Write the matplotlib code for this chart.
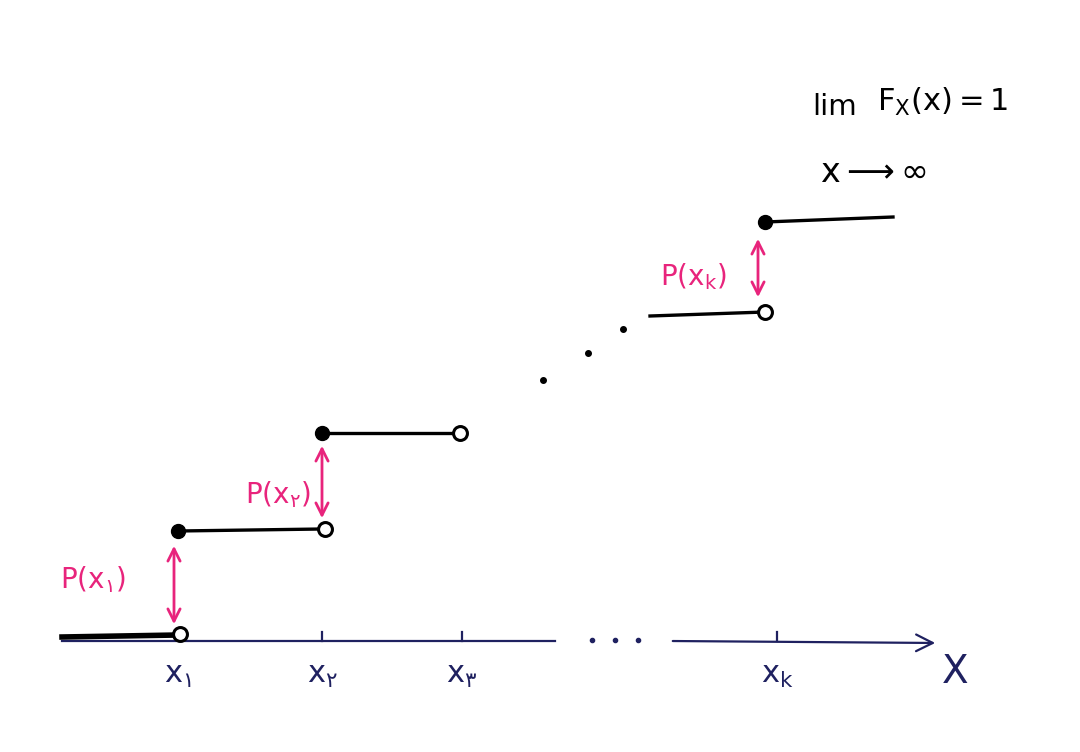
import matplotlib.pyplot as plt
import numpy as np

# positions of the jumps along X (drawing units) and the levels of F
jump_x = [178, 322, 462, 765]
tick_x = [178, 322, 462, 777]
tick_labels = [r"$x_{۱}$", r"$x_{۲}$", r"$x_{۳}$", r"$x_{k}$"]
levels = [115, 221, 319, 440, 530]   # F0, F(x1), F(x2), F(x_k-1), F(x_k)=1
start_x = 62
end_x = 893
gap_start = 650                        # where the step before x_k starts
dots_x = [543, 588, 623]
dots_y = [372, 399, 423]
p_labels = [r"$P(x_{۱})$", r"$P(x_{۲})$", r"$P(x_{k})$"]

pink = '#e8247c'
navy = '#1f2160'

plt.rcParams['font.family'] = ['DejaVu Sans']
plt.rcParams['mathtext.fontset'] = 'dejavusans'
plt.rcParams['mathtext.default'] = 'regular'

fig = plt.figure(figsize=(10.8, 7.52), dpi=100)
ax = fig.add_axes([0, 0, 1, 1])
ax.set_xlim(0, 1080)
ax.set_ylim(0, 752)
ax.axis('off')

axis_y = 111
# x axis, broken where the dots are
ax.plot([start_x, 555], [axis_y, axis_y], color=navy, lw=1.6)
ax.annotate('', xy=(938, axis_y - 2), xytext=(670, axis_y),
            arrowprops=dict(arrowstyle='->', color=navy, lw=1.6,
                            mutation_scale=30))
ax.plot([592, 615, 638], [axis_y + 1] * 3, 'o', color=navy, ms=3)
for tx in tick_x[1:]:
    ax.plot([tx, tx], [axis_y, axis_y + 9], color=navy, lw=1.6)
for tx, lab in zip(tick_x, tick_labels):
    ax.text(tx, axis_y - 34, lab, color=navy, fontsize=22,
            ha='center', va='center')
ax.text(955, 80, 'X', color=navy, fontsize=28, ha='center', va='center')

# steps
ax.plot([start_x, jump_x[0]], [levels[0], levels[0] + 2], color='black', lw=4)
ax.plot([jump_x[0], jump_x[1]], [levels[1], levels[1] + 2], color='black', lw=2.4)
ax.plot([jump_x[1], jump_x[2] - 2], [levels[2], levels[2]], color='black', lw=2.4)
ax.plot([gap_start, jump_x[3]], [levels[3] - 4, levels[3]], color='black', lw=2.4)
ax.plot([jump_x[3], end_x], [levels[4], levels[4] + 5], color='black', lw=2.4)

# filled (included) and open (excluded) end points
ax.plot([jump_x[0], jump_x[1], jump_x[3]], [levels[1], levels[2], levels[4]],
        'o', color='black', ms=10)
ax.plot([jump_x[0] + 2, jump_x[1] + 3, jump_x[2] - 2, jump_x[3]],
        [levels[0] + 3, levels[1] + 2, levels[2], levels[3]],
        'o', mfc='white', mec='black', mew=2.2, ms=10)

ax.plot(dots_x, dots_y, 'o', color='black', ms=4)

# jump sizes
arrow_x = [174, 322, 758]
low = [levels[0] + 10, levels[1] + 10, levels[3] + 12]
high = [levels[1] - 12, levels[2] - 10, levels[4] - 14]
for axx, lo, hi in zip(arrow_x, low, high):
    ax.annotate('', xy=(axx, hi), xytext=(axx, lo),
                arrowprops=dict(arrowstyle='<->', color=pink, lw=2,
                                mutation_scale=22))
ax.text(93, 172, p_labels[0], color=pink, fontsize=20, ha='center', va='center')
ax.text(278, 257, p_labels[1], color=pink, fontsize=20, ha='center', va='center')
ax.text(693, 475, p_labels[2], color=pink, fontsize=20, ha='center', va='center')

# limit
ax.text(835, 645, 'lim', color='black', fontsize=21, ha='center', va='center')
ax.text(873, 580, r'$x \longrightarrow \infty$', color='black', fontsize=24,
        ha='center', va='center')
ax.text(943, 650, r'$F_{X}(x) = 1$', color='black', fontsize=22,
        ha='center', va='center')

fig.savefig('out.png', dpi=100, facecolor='white')
